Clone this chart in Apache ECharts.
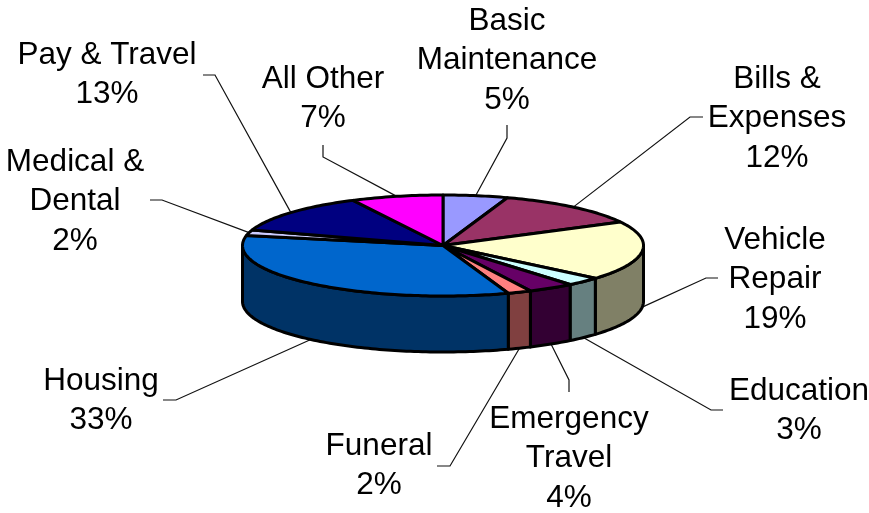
<!DOCTYPE html>
<html>
<head>
    <meta charset="utf-8"/>
    <title></title>
    <script src="https://cdn.jsdelivr.net/npm/echarts@6/dist/echarts.min.js"></script>
    <style>html, body {margin: 0; background: #fff;}</style>
</head>
<body>
<div id="main" style="width:869px;height:513px;"></div>
<script type="text/javascript">
    /* data, clockwise from twelve o'clock. labels print whole percents, the decimals are estimated from the slice edges */
    var categories = ['Basic\nMaintenance', 'Bills &\nExpenses', 'Vehicle\nRepair', 'Education', 'Emergency\nTravel',
        'Funeral', 'Housing', 'Medical &\nDental', 'Pay & Travel', 'All Other'];
    var values = [5.2, 12.1, 18.95, 2.8, 3.75, 1.9, 33.45, 1.8, 12.6, 7.4];

    /* colours */
    var topColors = ['#9999ff', '#993366', '#ffffcc', '#ccffff', '#660066', '#ff8080', '#0066cc', '#ccccff', '#000080', '#ff00ff'];
    var sideColors = ['#4c4c80', '#4c1933', '#808066', '#668080', '#330033', '#804040', '#003366', '#666680', '#000040', '#800080'];

    /* label layout: text centre, first line y, leader elbow, leader end */
    var labelX = [507, 777, 775, 799, 569, 379, 101, 75, 107, 323];
    var labelY = [21.5, 79.5, 240.5, 391.5, 419.5, 446.5, 381.5, 162.5, 55.5, 79.5];
    var elbowPts = [[507, 138], [690, 117], [706, 278], [711, 410], [569, 380], [450, 466], [176, 400], [162, 200], [215, 75], [323, 157]];
    var endPts = [[507, 125], [703, 117], [718, 278], [723, 410], [569, 392], [437, 466], [163, 400], [150, 200], [203, 75], [323, 145]];

    /* pie shape */
    var cx = 443, cy = 245.5, rx = 200.5, ry = 50.5, depth = 56;
    var lineW = 3, fontSize = 31.5, lineH = 39.3;

    var total = values.reduce(function (a, b) { return a + b; }, 0);
    var starts = [];
    var sum = 0;
    for (let i = 0; i < values.length; i++) {
        starts.push(sum / total * Math.PI * 2);
        sum += values[i];
    }
    function endOf(i) {
        return starts[i] + values[i] / total * Math.PI * 2;
    }
    function rim(t, dy) {
        return [cx + rx * Math.sin(t), cy - ry * Math.cos(t) + (dy || 0)];
    }
    function arc(a, b, dy) {
        var pts = [];
        var n = Math.max(2, Math.ceil((b - a) / 0.02));
        for (let k = 0; k <= n; k++) {
            pts.push(rim(a + (b - a) * k / n, dy));
        }
        return pts;
    }

    function renderWall(params) {
        var i = params.dataIndex;
        // only the front half of the rim can be seen
        var a = Math.max(starts[i], Math.PI / 2);
        var b = Math.min(endOf(i), Math.PI * 1.5);
        if (b <= a) {
            return null;
        }
        return {
            type: 'polygon',
            shape: {points: arc(a, b, 0).concat(arc(a, b, depth).reverse())},
            style: {fill: sideColors[i], stroke: '#000', lineWidth: lineW, lineJoin: 'round'}
        };
    }

    function renderTop(params) {
        var i = params.dataIndex;
        return {
            type: 'polygon',
            shape: {points: [[cx, cy]].concat(arc(starts[i], endOf(i), 0))},
            style: {fill: topColors[i], stroke: '#000', lineWidth: lineW, lineJoin: 'round'}
        };
    }

    function renderLabel(params) {
        var i = params.dataIndex;
        var mid = (starts[i] + endOf(i)) / 2;
        var front = mid > Math.PI / 2 && mid < Math.PI * 1.5;
        return {
            type: 'group',
            children: [{
                type: 'polyline',
                shape: {points: [rim(mid, front ? depth : 0), elbowPts[i], endPts[i]]},
                style: {fill: null, stroke: '#111', lineWidth: 1.2}
            }, {
                type: 'text',
                style: {
                    text: categories[i] + '\n' + Math.round(values[i]) + '%',
                    x: labelX[i],
                    y: labelY[i] - lineH / 2,
                    align: 'center',
                    verticalAlign: 'top',
                    fontFamily: 'Liberation Sans',
                    fontSize: fontSize,
                    lineHeight: lineH,
                    fill: '#000'
                }
            }]
        };
    }

    var chart = echarts.init(document.getElementById('main'));
    var option = {
        backgroundColor: '#fff',
        animation: false,
        series: [
            {type: 'custom', coordinateSystem: 'none', silent: true, z: 1, data: values, renderItem: renderLabel},
            {type: 'custom', coordinateSystem: 'none', silent: true, z: 2, data: values, renderItem: renderWall},
            {type: 'custom', coordinateSystem: 'none', silent: true, z: 3, data: values, renderItem: renderTop}
        ]
    };
    chart.setOption(option);
    window.onresize = chart.resize;
</script>
</body>
</html>
